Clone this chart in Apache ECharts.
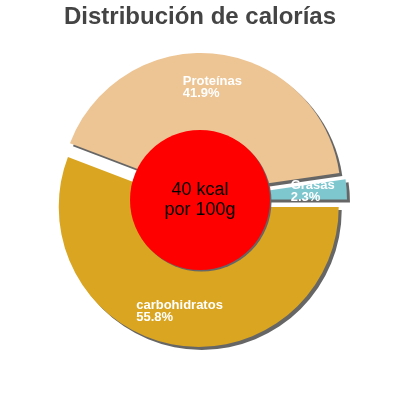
<!DOCTYPE html>
<html>
<head>
<meta charset="utf-8">
<script src="https://cdn.jsdelivr.net/npm/echarts@6/dist/echarts.min.js"></script>
<style>
html,body{margin:0;padding:0;background:#fff;}
#chart{width:400px;height:400px;}
</style>
</head>
<body>
<div id="chart"></div>
<script>
const titleText = 'Distribución de calorías';
const categories = ['carbohidratos', 'Proteínas', 'Grasas'];
const values = [55.8, 41.9, 2.3];
const colors = ['#daa520', '#edc493', '#7fc7cf'];
const centerLines = ['40 kcal', 'por 100g'];

const FONT = '"Liberation Sans", Arial, sans-serif';
const shadow = { shadowColor: '#666', shadowBlur: 0, shadowOffsetX: 3, shadowOffsetY: 3 };
const smallShadow = { shadowColor: '#666', shadowBlur: 0, shadowOffsetX: 1.5, shadowOffsetY: 1.5 };

const sliceData = categories.map((name, i) => ({
  name, value: values[i], selected: true,
  itemStyle: Object.assign({ color: colors[i], borderWidth: 0 }, shadow)
}));
const labelData = categories.map((name, i) => ({
  name, value: values[i], selected: true,
  itemStyle: { color: 'rgba(0,0,0,0)', borderWidth: 0 }
}));

const chart = echarts.init(document.getElementById('chart'), null, { renderer: 'canvas' });
chart.setOption({
  animation: false,
  backgroundColor: '#fff',
  title: {
    text: titleText, left: 'center', top: 5, padding: 0,
    textStyle: { fontFamily: FONT, fontSize: 24, fontWeight: 'bold', color: '#444' }
  },
  series: [
    {
      type: 'pie', center: ['50%', '50%'], radius: [0, 140],
      startAngle: 0, clockwise: true, selectedMode: 'multiple', selectedOffset: 7,
      avoidLabelOverlap: false, silent: true,
      label: { show: false }, labelLine: { show: false },
      emphasis: { disabled: true },
      data: sliceData
    },
    {
      type: 'pie', center: ['50%', '50%'], radius: [0, 70],
      silent: true, emphasis: { disabled: true },
      itemStyle: Object.assign({ color: '#ff0000', borderWidth: 0 }, smallShadow),
      label: {
        show: true, position: 'center', formatter: centerLines.join('\n'),
        fontFamily: FONT, fontSize: 18, lineHeight: 20, color: '#000'
      },
      labelLine: { show: false },
      data: [{ name: 'kcal', value: 40 }]
    },
    {
      type: 'pie', center: ['50%', '50%'], radius: [66, 140],
      startAngle: 0, clockwise: true, selectedMode: 'multiple', selectedOffset: 7,
      avoidLabelOverlap: false, silent: true, emphasis: { disabled: true },
      label: {
        show: true, position: 'inside', rotate: 0,
        formatter: p => '{a|' + p.name + '}\n{a|' + p.value + '%}',
        rich: { a: { align: 'left', fontFamily: FONT, fontSize: 13, fontWeight: 'bold', color: '#fff', lineHeight: 12 } }
      },
      labelLine: { show: false },
      data: labelData
    }
  ]
});
</script>
</body>
</html>
